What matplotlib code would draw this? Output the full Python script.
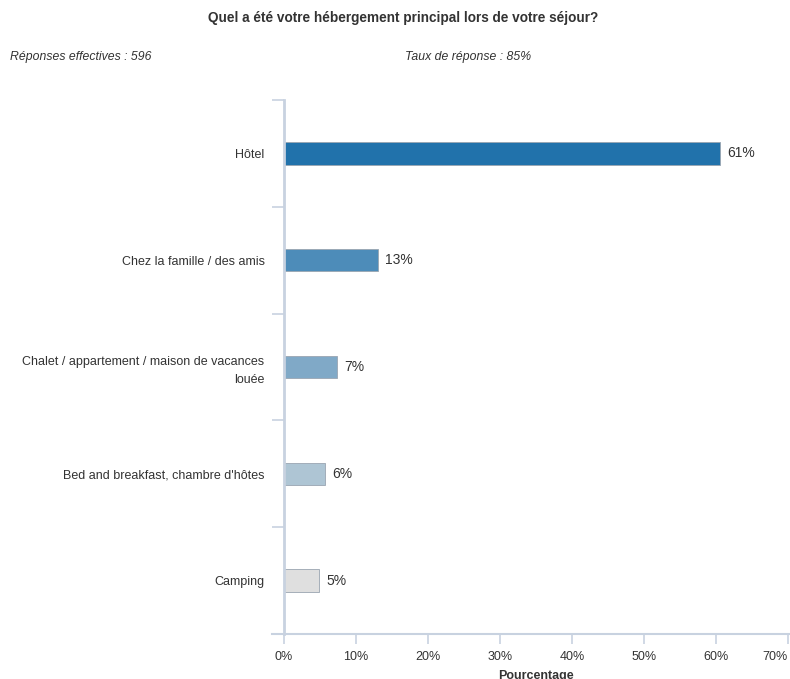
import numpy as np
import matplotlib.pyplot as plt

plt.rcParams['font.family'] = ['Liberation Sans', 'DejaVu Sans']

categories = ['Hôtel', 'Chez la famille / des amis',
              'Chalet / appartement / maison de vacances\nlouée',
              "Bed and breakfast, chambre d'hôtes", 'Camping']
values = [60.6, 13.1, 7.4, 5.7, 4.9]
value_labels = ['61%', '13%', '7%', '6%', '5%']
colors = ['#2172ab', '#4d8cb9', '#80a9c7', '#aec5d4', '#dfdfdf']
xticks = [0, 10, 20, 30, 40, 50, 60, 70]

axis_col = '#c8d2e0'
text_col = '#333333'

fig = plt.figure(figsize=(7.9, 6.79), dpi=100)
ax = fig.add_axes([0.3595, 0.0663, 0.638, 0.7864])

y = np.arange(len(categories))
ax.barh(y, values, height=0.21, color=colors, edgecolor='#9aa5b1', linewidth=0.6)
for yi, v, lab in zip(y, values, value_labels):
    ax.annotate(lab, (v, yi), xytext=(5, 0), textcoords='offset points',
                va='center', ha='left', fontsize=10, color=text_col)

ax.set_xlim(0, 70)
ax.set_ylim(len(categories) - 0.5, -0.5)
ax.set_xticks(xticks)
ax.set_xticklabels([f'{t}%' for t in xticks], fontsize=9, color=text_col)
ax.get_xticklabels()[-1].set_ha('right')
ax.set_yticks(y)
ax.set_yticklabels(categories, fontsize=9, color=text_col)
ax.tick_params(axis='y', which='major', length=0, pad=14)
ax.set_yticks(np.arange(-0.5, len(categories)), minor=True)
ax.tick_params(axis='y', which='minor', length=9, color=axis_col, width=1.2)
ax.tick_params(axis='x', length=7, color=axis_col, width=1.2, pad=5)
for lab in ax.get_yticklabels():
    lab.set_multialignment('right')
    lab.set_linespacing(1.6)

for s in ['top', 'right']:
    ax.spines[s].set_visible(False)
ax.spines['left'].set_color(axis_col)
ax.spines['left'].set_linewidth(2)
ax.spines['bottom'].set_visible(False)
ax.plot([-0.024, 1.005], [0, 0], transform=ax.transAxes, clip_on=False,
        color=axis_col, lw=1.5)

ax.set_xlabel('Pourcentage', fontsize=9, fontweight='bold', color=text_col, labelpad=5)

fig.text(403 / 790, 1 - 18 / 679, 'Quel a été votre hébergement principal lors de votre séjour?',
         ha='center', va='center', fontsize=9.8, fontweight='bold', color=text_col)
fig.text(10 / 790, 1 - 57 / 679, 'Réponses effectives : 596', ha='left', va='center',
         fontsize=8.8, style='italic', color=text_col)
fig.text(405 / 790, 1 - 57 / 679, 'Taux de réponse : 85%', ha='left', va='center',
         fontsize=8.8, style='italic', color=text_col)

fig.savefig('out.png', dpi=100)
